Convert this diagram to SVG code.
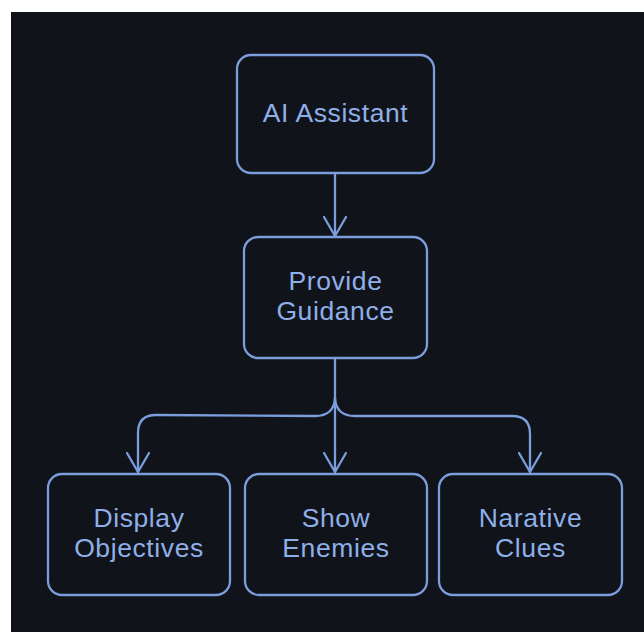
<svg xmlns="http://www.w3.org/2000/svg" width="644" height="632" viewBox="0 0 644 632">
<style>
.box{fill:#10131a;stroke:#7b9ddc;stroke-width:2.3}
.lbl{font-family:"Liberation Sans",Arial,sans-serif;font-size:26.5px;letter-spacing:0.6px;fill:#8fafe8;text-anchor:middle}
.con{fill:none;stroke:#7b9ddc;stroke-width:2.3;stroke-linecap:round;stroke-linejoin:round}
</style>
<defs>
<marker id="arr" viewBox="0 0 22 24" refX="20" refY="12" markerWidth="22" markerHeight="24" markerUnits="userSpaceOnUse" orient="auto">
<path d="M1,1 L20,12 L1,23" fill="none" stroke="#7b9ddc" stroke-width="2.3" stroke-linecap="round" stroke-linejoin="round"/>
</marker>
</defs>
<rect x="0" y="0" width="644" height="632" fill="#ffffff"/>
<rect x="11" y="12" width="633" height="620" fill="#10131a"/>
<g id="connectors">
<path class="con" d="M335,174 L335,236" marker-end="url(#arr)"/>
<path class="con" d="M335,359 L335,472" marker-end="url(#arr)"/>
<path class="con" d="M335,398 Q334,416 315,416 L156,415 Q138,415 138,433 L138,472" marker-end="url(#arr)"/>
<path class="con" d="M335,398 Q336,416 355,416 L512,416 Q530,416 530,434 L530,472" marker-end="url(#arr)"/>
</g>
<g id="ai-assistant">
<rect class="box" x="237" y="55" width="197" height="118" rx="14"/>
<text class="lbl" x="335.5" y="122">AI Assistant</text>
</g>
<g id="provide-guidance">
<rect class="box" x="244" y="237" width="183" height="121" rx="14"/>
<text class="lbl" x="335.5" y="290">Provide</text>
<text class="lbl" x="335.5" y="320">Guidance</text>
</g>
<g id="display-objectives">
<rect class="box" x="48" y="474" width="182" height="121" rx="14"/>
<text class="lbl" x="139" y="527">Display</text>
<text class="lbl" x="139" y="557">Objectives</text>
</g>
<g id="show-enemies">
<rect class="box" x="245" y="474" width="182" height="121" rx="14"/>
<text class="lbl" x="336" y="527">Show</text>
<text class="lbl" x="336" y="557">Enemies</text>
</g>
<g id="narative-clues">
<rect class="box" x="439" y="474" width="183" height="121" rx="14"/>
<text class="lbl" x="530.5" y="527">Narative</text>
<text class="lbl" x="530.5" y="557">Clues</text>
</g>
</svg>
